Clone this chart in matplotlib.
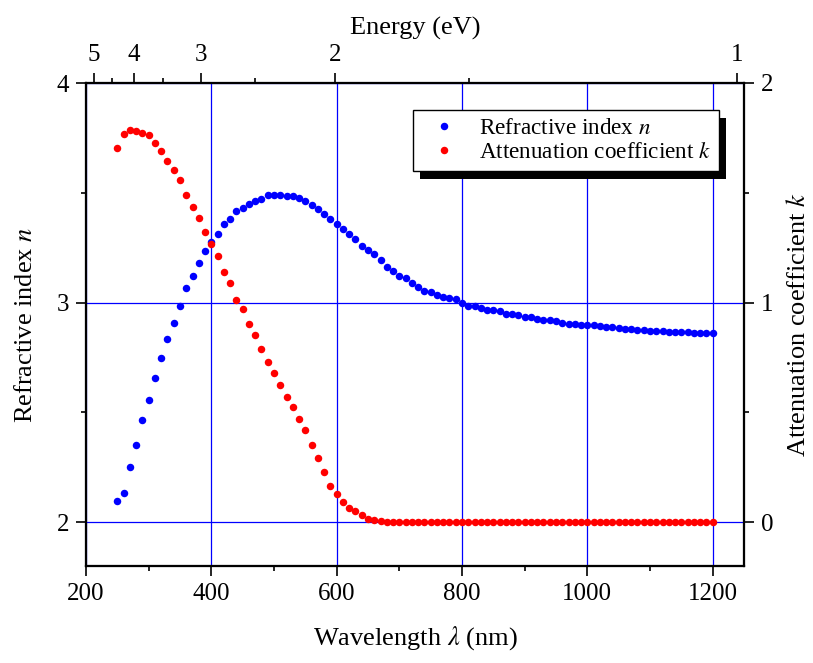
import matplotlib
matplotlib.use("Agg")
import matplotlib.pyplot as plt
from matplotlib.patches import Rectangle
from matplotlib.transforms import IdentityTransform
import numpy as np

plt.rcParams['font.family'] = ['Liberation Serif', 'DejaVu Serif']
plt.rcParams['mathtext.fontset'] = 'stix'

# wavelength grid (nm), one sample every 10 nm
wavelength = np.arange(250, 1201, 10)

n_values = [
    2.096, 2.132, 2.250, 2.350, 2.463, 2.557, 2.656, 2.749, 2.832, 2.909,
    2.983, 3.064, 3.123, 3.179, 3.233, 3.275, 3.314, 3.356, 3.380, 3.419,
    3.431, 3.451, 3.461, 3.473, 3.490, 3.492, 3.490, 3.486, 3.487, 3.475,
    3.464, 3.443, 3.425, 3.402, 3.382, 3.359, 3.335, 3.311, 3.288, 3.259,
    3.241, 3.222, 3.192, 3.164, 3.142, 3.122, 3.110, 3.088, 3.070, 3.052,
    3.048, 3.035, 3.027, 3.021, 3.015, 3.000, 2.986, 2.983, 2.973, 2.967,
    2.966, 2.961, 2.950, 2.947, 2.945, 2.936, 2.935, 2.926, 2.921, 2.920,
    2.916, 2.909, 2.904, 2.903, 2.900, 2.896, 2.896, 2.893, 2.889, 2.887,
    2.884, 2.881, 2.878, 2.875, 2.873, 2.872, 2.869, 2.869, 2.867, 2.866,
    2.866, 2.864, 2.863, 2.863, 2.860, 2.860,
]

k_values = [
    1.706, 1.769, 1.784, 1.782, 1.773, 1.761, 1.726, 1.691, 1.645, 1.603,
    1.556, 1.492, 1.437, 1.384, 1.321, 1.265, 1.210, 1.140, 1.091, 1.012,
    0.969, 0.900, 0.852, 0.787, 0.729, 0.677, 0.624, 0.569, 0.522, 0.470,
    0.419, 0.350, 0.291, 0.227, 0.166, 0.129, 0.093, 0.065, 0.049, 0.033,
    0.015, 0.010, 0.005, 0.002, 0.001,
] + [0.0] * 51

energy_ticks = [5, 4, 3, 2, 1]
energy_minor = [4.5, 3.5, 2.5, 1.5]


def energy_to_wavelength(e):
    # reciprocal energy scale used for the top axis
    return 1283.3 / np.asarray(e, dtype=float) - 44.2


fig = plt.figure(figsize=(8.13, 6.63), dpi=100)
ax = fig.add_axes([86 / 813, 1 - 566 / 663, (744 - 86) / 813, (566 - 83) / 663])

FS = 17.5

ax.plot(wavelength, n_values, 'o', color='#0000ff', markersize=5.4,
        markeredgewidth=0, label='Refractive index $n$')
ax.set_xlim(200, 1250)
ax.set_ylim(1.8, 4)
ax.set_xticks([200, 400, 600, 800, 1000, 1200])
ax.set_xticks(np.arange(300, 1200, 200), minor=True)
ax.set_yticks([2, 3, 4])
ax.set_yticks([2.5, 3.5], minor=True)
ax.grid(True, which='major', color='#0000ff', linewidth=0.9)
ax.set_axisbelow(True)
ax.set_xlabel('Wavelength $\\lambda$ (nm)', fontsize=FS + 1.5, labelpad=14)
ax.set_ylabel('Refractive index $n$', fontsize=FS + 1.5, labelpad=14)

# energy axis on top
axt = ax.twiny()
axt.set_xlim(ax.get_xlim())
axt.set_xticks(energy_to_wavelength(energy_ticks))
axt.set_xticklabels([str(e) for e in energy_ticks])
axt.set_xticks(energy_to_wavelength(energy_minor), minor=True)
axt.set_xlabel('Energy (eV)', fontsize=FS + 1.5, labelpad=7)

# attenuation coefficient on the right axis
ax2 = ax.twinx()
ax2.plot(wavelength, k_values, 'o', color='#ff0000', markersize=5.4,
         markeredgewidth=0, label='Attenuation coefficient $k$')
ax2.set_ylim(-0.2, 2)
ax2.set_yticks([0, 1, 2])
ax2.set_yticks([0.5, 1.5], minor=True)
ax2.set_ylabel('Attenuation coefficient $k$', fontsize=FS + 1.5, labelpad=10)

for a in (ax, axt, ax2):
    for s in a.spines.values():
        s.set_linewidth(1.5)
    a.tick_params(which='major', direction='out', length=7, width=1.2,
                  labelsize=FS + 0.5, pad=5)
    a.tick_params(which='minor', direction='out', length=3.5, width=1.2)

h1, l1 = ax.get_legend_handles_labels()
h2, l2 = ax2.get_legend_handles_labels()
leg = ax2.legend(h1 + h2, l1 + l2, loc='upper left',
                 bbox_to_anchor=(413 / 813, 1 - 110 / 663),
                 bbox_transform=fig.transFigure, fontsize=FS - 0.8,
                 frameon=True, fancybox=False, framealpha=1,
                 edgecolor='black', borderpad=0.35, handlelength=2.0,
                 handletextpad=0.5, labelspacing=0.1, borderaxespad=0,
                 markerscale=1.0)
leg.get_frame().set_linewidth(1.0)
leg.set_zorder(10)

# hard black drop shadow behind the legend box
fig.canvas.draw()
bb = leg.get_window_extent()
shadow = Rectangle((bb.x0 + 7, bb.y0 - 8), bb.width, bb.height,
                   transform=IdentityTransform(), facecolor='black',
                   edgecolor='none', zorder=9, clip_on=False)
ax2.add_artist(shadow)

fig.savefig('out.png', dpi=100)
